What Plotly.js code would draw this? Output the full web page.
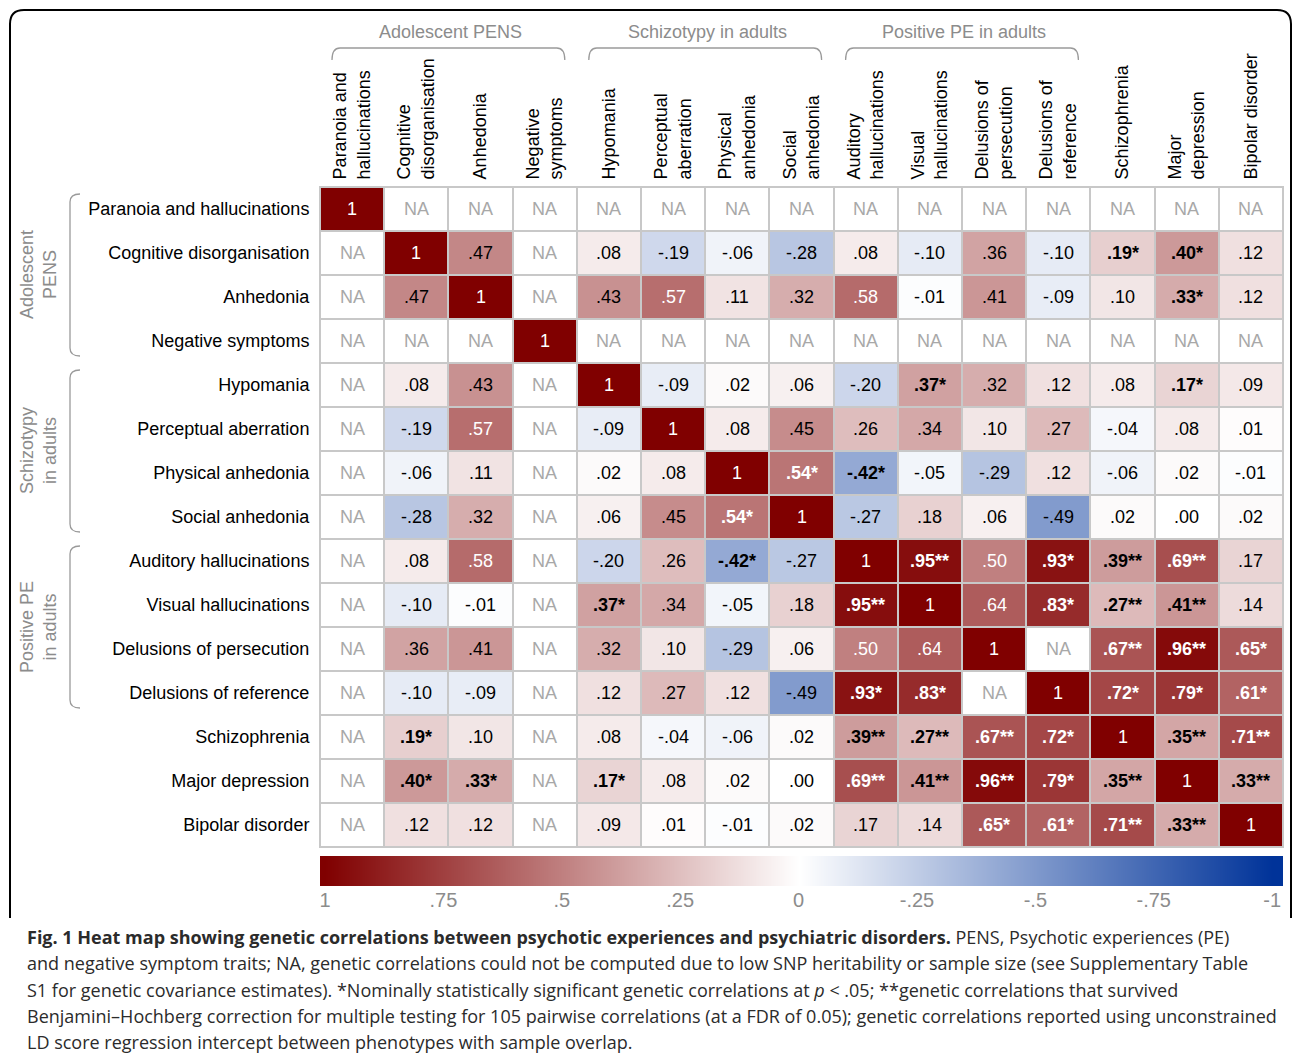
<!DOCTYPE html>
<html>
<head>
<meta charset="utf-8">
<script src="https://cdn.plot.ly/plotly-3.0.1.min.js"></script>
<style>html,body{margin:0;padding:0;background:#fff;}#chart{width:1292px;height:1061px;}</style>
</head>
<body>
<div id="chart"></div>
<script>
// ---------------- data ----------------
const rowLabels = ['Paranoia and hallucinations','Cognitive disorganisation','Anhedonia','Negative symptoms',
  'Hypomania','Perceptual aberration','Physical anhedonia','Social anhedonia',
  'Auditory hallucinations','Visual hallucinations','Delusions of persecution','Delusions of reference',
  'Schizophrenia','Major depression','Bipolar disorder'];
const colLabels = ['Paranoia and<br>hallucinations','Cognitive<br>disorganisation','Anhedonia','Negative<br>symptoms',
  'Hypomania','Perceptual<br>aberration','Physical<br>anhedonia','Social<br>anhedonia',
  'Auditory<br>hallucinations','Visual<br>hallucinations','Delusions of<br>persecution','Delusions of<br>reference',
  'Schizophrenia','Major<br>depression','Bipolar disorder'];
const groupNames = ['Adolescent PENS','Schizotypy in adults','Positive PE in adults'];
const groupNamesLeft = ['Adolescent<br>PENS','Schizotypy<br>in adults','Positive PE<br>in adults'];
const groupStart = [0, 4, 8];
const groupEnd = [3, 7, 11];
const n = null;
const corr = [
  [1,n,n,n,n,n,n,n,n,n,n,n,n,n,n],
  [n,1,.47,n,.08,-.19,-.06,-.28,.08,-.10,.36,-.10,.19,.40,.12],
  [n,.47,1,n,.43,.57,.11,.32,.58,-.01,.41,-.09,.10,.33,.12],
  [n,n,n,1,n,n,n,n,n,n,n,n,n,n,n],
  [n,.08,.43,n,1,-.09,.02,.06,-.20,.37,.32,.12,.08,.17,.09],
  [n,-.19,.57,n,-.09,1,.08,.45,.26,.34,.10,.27,-.04,.08,.01],
  [n,-.06,.11,n,.02,.08,1,.54,-.42,-.05,-.29,.12,-.06,.02,-.01],
  [n,-.28,.32,n,.06,.45,.54,1,-.27,.18,.06,-.49,.02,.00,.02],
  [n,.08,.58,n,-.20,.26,-.42,-.27,1,.95,.50,.93,.39,.69,.17],
  [n,-.10,-.01,n,.37,.34,-.05,.18,.95,1,.64,.83,.27,.41,.14],
  [n,.36,.41,n,.32,.10,-.29,.06,.50,.64,1,n,.67,.96,.65],
  [n,-.10,-.09,n,.12,.27,.12,-.49,.93,.83,n,1,.72,.79,.61],
  [n,.19,.10,n,.08,-.04,-.06,.02,.39,.27,.67,.72,1,.35,.71],
  [n,.40,.33,n,.17,.08,.02,.00,.69,.41,.96,.79,.35,1,.33],
  [n,.12,.12,n,.09,.01,-.01,.02,.17,.14,.65,.61,.71,.33,1]
];
const stars = [
  ['','','','','','','','','','','','','','',''],
  ['','','','','','','','','','','','','*','*',''],
  ['','','','','','','','','','','','','','*',''],
  ['','','','','','','','','','','','','','',''],
  ['','','','','','','','','','*','','','','*',''],
  ['','','','','','','','','','','','','','',''],
  ['','','','','','','','*','*','','','','','',''],
  ['','','','','','','*','','','','','','','',''],
  ['','','','','','','*','','','**','','*','**','**',''],
  ['','','','','*','','','','**','','','*','**','**',''],
  ['','','','','','','','','','','','','**','**','*'],
  ['','','','','','','','','*','*','','','*','*','*'],
  ['','*','','','','','','','**','**','**','*','','**','**'],
  ['','*','*','','*','','','','**','**','**','*','**','','**'],
  ['','','','','','','','','','','*','*','**','**','']
];
const cbTicks = [1, .75, .5, .25, 0, -.25, -.5, -.75, -1];
const cbLabels = ['1', '.75', '.5', '.25', '0', '-.25', '-.5', '-.75', '-1'];

// ---------------- geometry helpers (page pixels -> paper) ----------------
const W = 1292, H = 1061;
const mL = 320, mR = 9, mT = 187, mB = 175;
const pw = W - mL - mR, ph = H - mT - mB;
const X = px => (px - mL) / pw;
const Y = py => (H - mB - py) / ph;
const gridTop = 187, gridBottom = 847, gridLeft = 320, gridRight = 1283;
const cw = (gridRight - gridLeft) / 15, chh = (gridBottom - gridTop) / 15;

const colorscale = [[0, 'rgb(0,51,153)'], [0.5, 'rgb(255,255,255)'], [1, 'rgb(128,0,0)']];
const idx = rowLabels.map((_, i) => i);
const naMask = corr.map(r => r.map(v => v === null ? 0 : null));

function fmt(v) {
  if (v === 1) return '1';
  const s = Math.abs(v).toFixed(2).slice(1);
  return (v < 0 ? '-' : '') + s;
}

const traces = [
  { type: 'heatmap', z: naMask, x: idx, y: idx, colorscale: [[0, '#ffffff'], [1, '#ffffff']],
    showscale: false, xgap: 2, ygap: 2, hoverinfo: 'skip', xaxis: 'x', yaxis: 'y' },
  { type: 'heatmap', z: corr, x: idx, y: idx, colorscale: colorscale, zmin: -1, zmax: 1,
    showscale: false, xgap: 2, ygap: 2, hoverinfo: 'skip', xaxis: 'x', yaxis: 'y' },
  { type: 'heatmap', z: [cbTicks, cbTicks], x: cbTicks, y: [0, 1], colorscale: colorscale, zmin: -1, zmax: 1,
    zsmooth: 'best', showscale: false, hoverinfo: 'skip', xaxis: 'x2', yaxis: 'y2' }
];

const cellFont = 'Liberation Sans, Arial, sans-serif';
const annotations = [];
corr.forEach((row, i) => row.forEach((v, j) => {
  let text, color, bold = false;
  if (v === null) { text = 'NA'; color = '#a8a8a8'; }
  else {
    text = fmt(v) + stars[i][j];
    bold = stars[i][j] !== '';
    color = v >= 0.48 ? '#ffffff' : '#000000';
  }
  annotations.push({ x: j, y: i, xref: 'x', yref: 'y', showarrow: false,
    text: bold ? '<b>' + text + '</b>' : text,
    font: { family: cellFont, size: 18, color: color } });
}));

const grayTxt = '#8c8c8c';
const shapes = [];
groupNames.forEach((g, k) => {
  const xL = gridLeft + groupStart[k] * cw + 12, xR = gridLeft + (groupEnd[k] + 1) * cw - 12;
  const cx = gridLeft + (groupStart[k] + groupEnd[k] + 1) / 2 * cw;
  annotations.push({ x: X(cx + 2), y: Y(32), xref: 'paper', yref: 'paper', showarrow: false,
    text: g, font: { family: cellFont, size: 18, color: grayTxt }, xanchor: 'center', yanchor: 'middle' });
  const yT = 48, yE = 60, r = 8;
  shapes.push({ type: 'path', xref: 'paper', yref: 'paper',
    path: `M ${X(xL)},${Y(yE)} Q ${X(xL)},${Y(yT)} ${X(xL + r)},${Y(yT)} L ${X(xR - r)},${Y(yT)} Q ${X(xR)},${Y(yT)} ${X(xR)},${Y(yE)}`,
    line: { color: '#9a9a9a', width: 1.3 } });
  const yTop = gridTop + groupStart[k] * chh + 7, yBot = gridTop + (groupEnd[k] + 1) * chh - 7;
  const cy = gridTop + (groupStart[k] + groupEnd[k] + 1) / 2 * chh;
  annotations.push({ x: X(38), y: Y(cy), xref: 'paper', yref: 'paper', showarrow: false, textangle: -90,
    text: groupNamesLeft[k], font: { family: cellFont, size: 18, color: grayTxt }, xanchor: 'center', yanchor: 'middle' });
  const xV = 70, xE = 80;
  shapes.push({ type: 'path', xref: 'paper', yref: 'paper',
    path: `M ${X(xE)},${Y(yTop)} Q ${X(xV)},${Y(yTop)} ${X(xV)},${Y(yTop + r)} L ${X(xV)},${Y(yBot - r)} Q ${X(xV)},${Y(yBot)} ${X(xE)},${Y(yBot)}`,
    line: { color: '#9a9a9a', width: 1.3 } });
});

// outer frame
shapes.push({ type: 'path', xref: 'paper', yref: 'paper',
  path: `M ${X(10)},${Y(918)} L ${X(10)},${Y(24)} Q ${X(10)},${Y(10)} ${X(24)},${Y(10)} L ${X(1277)},${Y(10)} Q ${X(1291)},${Y(10)} ${X(1291)},${Y(24)} L ${X(1291)},${Y(918)}`,
  line: { color: '#000000', width: 2 } });

// caption
const capFont = 'Open Sans, Noto Sans, sans-serif';
const capLines = [
  '<b>Fig. 1 Heat map showing genetic correlations between psychotic experiences and psychiatric disorders.</b> PENS, Psychotic experiences (PE)',
  'and negative symptom traits; NA, genetic correlations could not be computed due to low SNP heritability or sample size (see Supplementary Table',
  'S1 for genetic covariance estimates). *Nominally statistically significant genetic correlations at <i>p</i> &lt; .05; **genetic correlations that survived',
  'Benjamini–Hochberg correction for multiple testing for 105 pairwise correlations (at a FDR of 0.05); genetic correlations reported using unconstrained',
  'LD score regression intercept between phenotypes with sample overlap.'
];
const capY = [937, 963, 990, 1016, 1042];
capLines.forEach((t, k) => annotations.push({ x: X(25), y: Y(capY[k]), xref: 'paper', yref: 'paper',
  showarrow: false, text: t, xanchor: 'left', yanchor: 'middle', align: 'left',
  font: { family: capFont, size: 18, color: '#2b2b2b' } }));

const layout = {
  width: W, height: H,
  margin: { l: mL, r: mR, t: mT, b: mB, pad: 0 },
  paper_bgcolor: '#ffffff', plot_bgcolor: '#c8c8c8',
  showlegend: false,
  font: { family: cellFont, size: 18, color: '#000' },
  xaxis: { domain: [0, 1], range: [-0.5, 14.5], side: 'top', tickmode: 'array', tickvals: idx, ticktext: colLabels,
    tickangle: -90, ticks: '', showgrid: false, zeroline: false, fixedrange: true,
    tickfont: { family: cellFont, size: 18, color: '#000' }, ticklabelstandoff: 3,
    showline: true, mirror: true, linecolor: '#c8c8c8', linewidth: 1 },
  yaxis: { domain: [Y(gridBottom), 1], range: [14.5, -0.5], tickmode: 'array', tickvals: idx, ticktext: rowLabels,
    ticks: '', showgrid: false, zeroline: false, fixedrange: true,
    tickfont: { family: cellFont, size: 18, color: '#000' }, ticklabelstandoff: 6,
    showline: true, mirror: true, linecolor: '#c8c8c8', linewidth: 1 },
  xaxis2: { domain: [0, 1], anchor: 'y2', range: [1.0106, -1.023], tickmode: 'array', tickvals: cbTicks, ticktext: cbLabels,
    ticks: '', showgrid: false, zeroline: false, showline: false, fixedrange: true,
    tickfont: { family: 'Liberation Sans Narrow, Arial Narrow, sans-serif', size: 20, color: '#8c8c8c' } },
  yaxis2: { domain: [0, Y(856)], anchor: 'x2', range: [0, 1], showticklabels: false, ticks: '', showgrid: false,
    zeroline: false, fixedrange: true },
  annotations: annotations,
  shapes: shapes
};

Plotly.newPlot('chart', traces, layout, { displayModeBar: false, staticPlot: true });
</script>
</body>
</html>
